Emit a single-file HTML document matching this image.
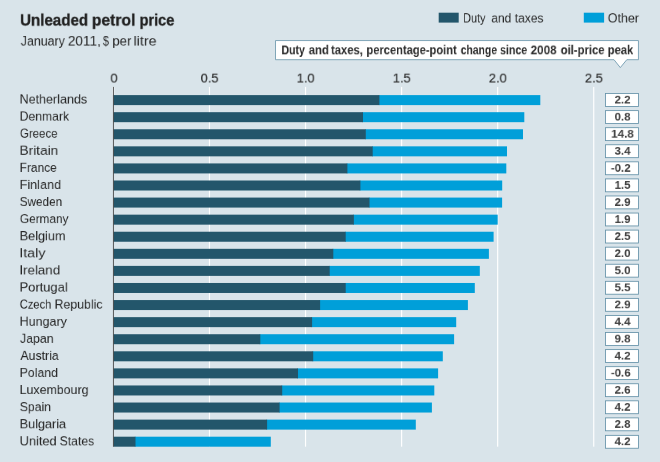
<!DOCTYPE html>
<html lang="en">
<head>
<meta charset="utf-8">
<title>Unleaded petrol price</title>
<style>
html,body{margin:0;padding:0;}
body{width:660px;height:462px;overflow:hidden;background:#d9e4ea;font-family:"Liberation Sans",sans-serif;position:relative;}
#chart{position:absolute;left:0;top:0;width:660px;height:462px;overflow:hidden;background:#d9e4ea;}
#chart svg{position:absolute;left:0;top:0;}
.t{position:absolute;left:0;top:0;white-space:nowrap;line-height:1;will-change:transform;font-family:"Liberation Sans",sans-serif;}
</style>
</head>
<body>
<div id="chart">
<svg width="660" height="462" viewBox="0 0 660 462">
<rect x="208.90" y="86.9" width="1.15" height="359.8" fill="#ffffff"/>
<rect x="304.96" y="86.9" width="1.15" height="359.8" fill="#ffffff"/>
<rect x="401.04" y="86.9" width="1.15" height="359.8" fill="#ffffff"/>
<rect x="497.10" y="86.9" width="1.15" height="359.8" fill="#ffffff"/>
<rect x="593.17" y="86.9" width="1.15" height="359.8" fill="#ffffff"/>
<rect x="378.7" y="95.10" width="161.6" height="10.0" fill="#009fd9"/>
<rect x="113.5" y="95.10" width="265.9" height="10.0" fill="#23566b"/>
<rect x="362.3" y="112.18" width="162.0" height="10.0" fill="#009fd9"/>
<rect x="113.5" y="112.18" width="249.5" height="10.0" fill="#23566b"/>
<rect x="365.1" y="129.26" width="157.9" height="10.0" fill="#009fd9"/>
<rect x="113.5" y="129.26" width="252.3" height="10.0" fill="#23566b"/>
<rect x="372.0" y="146.34" width="135.0" height="10.0" fill="#009fd9"/>
<rect x="113.5" y="146.34" width="259.2" height="10.0" fill="#23566b"/>
<rect x="346.7" y="163.42" width="159.6" height="10.0" fill="#009fd9"/>
<rect x="113.5" y="163.42" width="233.9" height="10.0" fill="#23566b"/>
<rect x="359.7" y="180.50" width="142.5" height="10.0" fill="#009fd9"/>
<rect x="113.5" y="180.50" width="246.9" height="10.0" fill="#23566b"/>
<rect x="368.8" y="197.58" width="133.3" height="10.0" fill="#009fd9"/>
<rect x="113.5" y="197.58" width="256.0" height="10.0" fill="#23566b"/>
<rect x="353.2" y="214.66" width="144.5" height="10.0" fill="#009fd9"/>
<rect x="113.5" y="214.66" width="240.4" height="10.0" fill="#23566b"/>
<rect x="345.0" y="231.74" width="148.6" height="10.0" fill="#009fd9"/>
<rect x="113.5" y="231.74" width="232.2" height="10.0" fill="#23566b"/>
<rect x="332.6" y="248.82" width="156.3" height="10.0" fill="#009fd9"/>
<rect x="113.5" y="248.82" width="219.8" height="10.0" fill="#23566b"/>
<rect x="329.0" y="265.90" width="150.8" height="10.0" fill="#009fd9"/>
<rect x="113.5" y="265.90" width="216.2" height="10.0" fill="#23566b"/>
<rect x="345.0" y="282.98" width="129.8" height="10.0" fill="#009fd9"/>
<rect x="113.5" y="282.98" width="232.2" height="10.0" fill="#23566b"/>
<rect x="319.4" y="300.06" width="148.5" height="10.0" fill="#009fd9"/>
<rect x="113.5" y="300.06" width="206.6" height="10.0" fill="#23566b"/>
<rect x="311.4" y="317.14" width="144.8" height="10.0" fill="#009fd9"/>
<rect x="113.5" y="317.14" width="198.6" height="10.0" fill="#23566b"/>
<rect x="259.6" y="334.22" width="194.5" height="10.0" fill="#009fd9"/>
<rect x="113.5" y="334.22" width="146.8" height="10.0" fill="#23566b"/>
<rect x="312.5" y="351.30" width="130.3" height="10.0" fill="#009fd9"/>
<rect x="113.5" y="351.30" width="199.7" height="10.0" fill="#23566b"/>
<rect x="297.3" y="368.38" width="140.8" height="10.0" fill="#009fd9"/>
<rect x="113.5" y="368.38" width="184.5" height="10.0" fill="#23566b"/>
<rect x="281.5" y="385.46" width="152.8" height="10.0" fill="#009fd9"/>
<rect x="113.5" y="385.46" width="168.7" height="10.0" fill="#23566b"/>
<rect x="278.9" y="402.54" width="153.0" height="10.0" fill="#009fd9"/>
<rect x="113.5" y="402.54" width="166.1" height="10.0" fill="#23566b"/>
<rect x="266.4" y="419.62" width="149.4" height="10.0" fill="#009fd9"/>
<rect x="113.5" y="419.62" width="153.6" height="10.0" fill="#23566b"/>
<rect x="134.8" y="436.70" width="136.0" height="10.0" fill="#009fd9"/>
<rect x="113.5" y="436.70" width="22.0" height="10.0" fill="#23566b"/>
<rect x="112.2" y="87.0" width="2.4" height="8" fill="#ffffff" opacity="0.45"/>
<rect x="112.95" y="86.9" width="0.85" height="359.8" fill="#404040"/>
<rect x="605.5" y="93.55" width="33" height="12.9" fill="#ffffff" stroke="#6592a8" stroke-width="0.85"/>
<rect x="605.5" y="110.62" width="33" height="12.9" fill="#ffffff" stroke="#6592a8" stroke-width="0.85"/>
<rect x="605.5" y="127.69" width="33" height="12.9" fill="#ffffff" stroke="#6592a8" stroke-width="0.85"/>
<rect x="605.5" y="144.76" width="33" height="12.9" fill="#ffffff" stroke="#6592a8" stroke-width="0.85"/>
<rect x="605.5" y="161.83" width="33" height="12.9" fill="#ffffff" stroke="#6592a8" stroke-width="0.85"/>
<rect x="605.5" y="178.90" width="33" height="12.9" fill="#ffffff" stroke="#6592a8" stroke-width="0.85"/>
<rect x="605.5" y="195.97" width="33" height="12.9" fill="#ffffff" stroke="#6592a8" stroke-width="0.85"/>
<rect x="605.5" y="213.04" width="33" height="12.9" fill="#ffffff" stroke="#6592a8" stroke-width="0.85"/>
<rect x="605.5" y="230.11" width="33" height="12.9" fill="#ffffff" stroke="#6592a8" stroke-width="0.85"/>
<rect x="605.5" y="247.18" width="33" height="12.9" fill="#ffffff" stroke="#6592a8" stroke-width="0.85"/>
<rect x="605.5" y="264.25" width="33" height="12.9" fill="#ffffff" stroke="#6592a8" stroke-width="0.85"/>
<rect x="605.5" y="281.32" width="33" height="12.9" fill="#ffffff" stroke="#6592a8" stroke-width="0.85"/>
<rect x="605.5" y="298.39" width="33" height="12.9" fill="#ffffff" stroke="#6592a8" stroke-width="0.85"/>
<rect x="605.5" y="315.46" width="33" height="12.9" fill="#ffffff" stroke="#6592a8" stroke-width="0.85"/>
<rect x="605.5" y="332.53" width="33" height="12.9" fill="#ffffff" stroke="#6592a8" stroke-width="0.85"/>
<rect x="605.5" y="349.60" width="33" height="12.9" fill="#ffffff" stroke="#6592a8" stroke-width="0.85"/>
<rect x="605.5" y="366.67" width="33" height="12.9" fill="#ffffff" stroke="#6592a8" stroke-width="0.85"/>
<rect x="605.5" y="383.74" width="33" height="12.9" fill="#ffffff" stroke="#6592a8" stroke-width="0.85"/>
<rect x="605.5" y="400.81" width="33" height="12.9" fill="#ffffff" stroke="#6592a8" stroke-width="0.85"/>
<rect x="605.5" y="417.88" width="33" height="12.9" fill="#ffffff" stroke="#6592a8" stroke-width="0.85"/>
<rect x="605.5" y="435.35" width="33" height="12.9" fill="#ffffff" stroke="#6592a8" stroke-width="0.85"/>
<rect x="438.7" y="12.7" width="20" height="9.9" fill="#23566b"/>
<rect x="583.8" y="12.7" width="20.3" height="9.9" fill="#009fd9"/>
<path d="M275.5 40.55 H638.45 V59.7 H626.8 L620.3 67.6 L614.0 59.7 H275.5 Z" fill="#ffffff" stroke="#6592a8" stroke-width="0.8" stroke-linejoin="miter"/>
</svg>
<div class="t" id="title_0" style="transform-origin:0 0;transform:translate(19.99px,12.00px) scale(0.7572,0.7987);font-size:20px;font-weight:bold;color:#222222;-webkit-text-stroke:0.35px #222222;">Unleaded</div>
<div class="t" id="title_1" style="transform-origin:0 0;transform:translate(91.78px,12.00px) scale(0.7851,0.7987);font-size:20px;font-weight:bold;color:#222222;-webkit-text-stroke:0.35px #222222;">petrol</div>
<div class="t" id="title_2" style="transform-origin:0 0;transform:translate(139.56px,12.00px) scale(0.7260,0.7987);font-size:20px;font-weight:bold;color:#222222;-webkit-text-stroke:0.35px #222222;">price</div>
<div class="t" id="sub_0" style="transform-origin:0 0;transform:translate(20.79px,34.28px) scale(0.7616,0.8021);font-size:16.25px;color:#262626;">January</div>
<div class="t" id="sub_1" style="transform-origin:0 0;transform:translate(67.84px,34.28px) scale(0.8346,0.8021);font-size:16.25px;color:#262626;">2011,</div>
<div class="t" id="sub_2" style="transform-origin:0 0;transform:translate(102.95px,34.28px) scale(0.6578,0.8021);font-size:16.25px;color:#262626;">$</div>
<div class="t" id="sub_3" style="transform-origin:0 0;transform:translate(112.29px,34.28px) scale(0.8149,0.8021);font-size:16.25px;color:#262626;">per</div>
<div class="t" id="sub_4" style="transform-origin:0 0;transform:translate(133.55px,34.28px) scale(0.8742,0.8021);font-size:16.25px;color:#262626;">litre</div>
<div class="t" id="leg1_0" style="transform-origin:0 0;transform:translate(463.13px,11.65px) scale(0.6694,0.7718);font-size:16.25px;color:#262626;">Duty</div>
<div class="t" id="leg1_1" style="transform-origin:0 0;transform:translate(491.29px,11.65px) scale(0.7382,0.7718);font-size:16.25px;color:#262626;">and</div>
<div class="t" id="leg1_2" style="transform-origin:0 0;transform:translate(514.84px,11.65px) scale(0.7348,0.7718);font-size:16.25px;color:#262626;">taxes</div>
<div class="t" id="leg2" style="transform-origin:0 0;transform:translate(607.79px,11.65px) scale(0.7669,0.7718);font-size:16.25px;color:#262626;">Other</div>
<div class="t" id="call_0" style="transform-origin:0 0;transform:translate(281.50px,42.92px) scale(0.7003,0.8751);font-size:15px;font-weight:bold;color:#2b2b2b;">Duty</div>
<div class="t" id="call_1" style="transform-origin:0 0;transform:translate(308.78px,42.92px) scale(0.7528,0.8751);font-size:15px;font-weight:bold;color:#2b2b2b;">and</div>
<div class="t" id="call_2" style="transform-origin:0 0;transform:translate(331.01px,42.92px) scale(0.7488,0.8751);font-size:15px;font-weight:bold;color:#2b2b2b;">taxes,</div>
<div class="t" id="call_3" style="transform-origin:0 0;transform:translate(366.41px,42.92px) scale(0.7422,0.8751);font-size:15px;font-weight:bold;color:#2b2b2b;">percentage-point</div>
<div class="t" id="call_4" style="transform-origin:0 0;transform:translate(460.70px,42.92px) scale(0.6914,0.8751);font-size:15px;font-weight:bold;color:#2b2b2b;">change</div>
<div class="t" id="call_5" style="transform-origin:0 0;transform:translate(500.05px,42.92px) scale(0.7073,0.8751);font-size:15px;font-weight:bold;color:#2b2b2b;">since</div>
<div class="t" id="call_6" style="transform-origin:0 0;transform:translate(530.63px,42.92px) scale(0.7785,0.8751);font-size:15px;font-weight:bold;color:#2b2b2b;">2008</div>
<div class="t" id="call_7" style="transform-origin:0 0;transform:translate(560.70px,42.92px) scale(0.7504,0.8751);font-size:15px;font-weight:bold;color:#2b2b2b;">oil-price</div>
<div class="t" id="call_8" style="transform-origin:0 0;transform:translate(607.70px,42.92px) scale(0.7477,0.8751);font-size:15px;font-weight:bold;color:#2b2b2b;">peak</div>
<div class="t" id="ax0" style="width:200px;text-align:center;transform-origin:100px 0;transform:translate(14.05px,71.02px) scale(0.8560,0.8791);font-size:15px;color:#262626;-webkit-text-stroke:0.15px #262626;">0</div>
<div class="t" id="ax1" style="width:200px;text-align:center;transform-origin:100px 0;transform:translate(109.62px,71.02px) scale(0.8560,0.8791);font-size:15px;color:#262626;-webkit-text-stroke:0.15px #262626;">0.5</div>
<div class="t" id="ax2" style="width:200px;text-align:center;transform-origin:100px 0;transform:translate(205.69px,71.02px) scale(0.8560,0.8791);font-size:15px;color:#262626;-webkit-text-stroke:0.15px #262626;">1.0</div>
<div class="t" id="ax3" style="width:200px;text-align:center;transform-origin:100px 0;transform:translate(301.76px,71.02px) scale(0.8560,0.8791);font-size:15px;color:#262626;-webkit-text-stroke:0.15px #262626;">1.5</div>
<div class="t" id="ax4" style="width:200px;text-align:center;transform-origin:100px 0;transform:translate(397.83px,71.02px) scale(0.8560,0.8791);font-size:15px;color:#262626;-webkit-text-stroke:0.15px #262626;">2.0</div>
<div class="t" id="ax5" style="width:200px;text-align:center;transform-origin:100px 0;transform:translate(493.90px,71.02px) scale(0.8560,0.8791);font-size:15px;color:#262626;-webkit-text-stroke:0.15px #262626;">2.5</div>
<div class="t" id="lab0" style="transform-origin:0 0;transform:translate(19.63px,92.80px) scale(0.7702,0.7644);font-size:16.25px;color:#262626;">Netherlands</div>
<div class="t" id="val0" style="width:200px;text-align:center;transform-origin:100px 0;transform:translate(522.50px,94.92px) scale(0.8400,0.7767);font-size:13.75px;font-weight:bold;color:#404040;">2.2</div>
<div class="t" id="lab1" style="transform-origin:0 0;transform:translate(19.66px,109.89px) scale(0.7496,0.7644);font-size:16.25px;color:#262626;">Denmark</div>
<div class="t" id="val1" style="width:200px;text-align:center;transform-origin:100px 0;transform:translate(522.50px,111.99px) scale(0.8400,0.7767);font-size:13.75px;font-weight:bold;color:#404040;">0.8</div>
<div class="t" id="lab2" style="transform-origin:0 0;transform:translate(19.93px,126.99px) scale(0.7049,0.7644);font-size:16.25px;color:#262626;">Greece</div>
<div class="t" id="val2" style="width:200px;text-align:center;transform-origin:100px 0;transform:translate(522.50px,129.06px) scale(0.8400,0.7767);font-size:13.75px;font-weight:bold;color:#404040;">14.8</div>
<div class="t" id="lab3" style="transform-origin:0 0;transform:translate(19.56px,144.08px) scale(0.8392,0.7644);font-size:16.25px;color:#262626;">Britain</div>
<div class="t" id="val3" style="width:200px;text-align:center;transform-origin:100px 0;transform:translate(522.50px,146.13px) scale(0.8400,0.7767);font-size:13.75px;font-weight:bold;color:#404040;">3.4</div>
<div class="t" id="lab4" style="transform-origin:0 0;transform:translate(19.66px,161.18px) scale(0.7332,0.7644);font-size:16.25px;color:#262626;">France</div>
<div class="t" id="val4" style="width:200px;text-align:center;transform-origin:100px 0;transform:translate(520.70px,163.20px) scale(0.8400,0.7767);font-size:13.75px;font-weight:bold;color:#404040;">-0.2</div>
<div class="t" id="lab5" style="transform-origin:0 0;transform:translate(19.63px,178.27px) scale(0.7799,0.7644);font-size:16.25px;color:#262626;">Finland</div>
<div class="t" id="val5" style="width:200px;text-align:center;transform-origin:100px 0;transform:translate(522.50px,180.27px) scale(0.8400,0.7767);font-size:13.75px;font-weight:bold;color:#404040;">1.5</div>
<div class="t" id="lab6" style="transform-origin:0 0;transform:translate(19.75px,195.37px) scale(0.7218,0.7644);font-size:16.25px;color:#262626;">Sweden</div>
<div class="t" id="val6" style="width:200px;text-align:center;transform-origin:100px 0;transform:translate(522.50px,197.34px) scale(0.8400,0.7767);font-size:13.75px;font-weight:bold;color:#404040;">2.9</div>
<div class="t" id="lab7" style="transform-origin:0 0;transform:translate(19.91px,212.46px) scale(0.7254,0.7644);font-size:16.25px;color:#262626;">Germany</div>
<div class="t" id="val7" style="width:200px;text-align:center;transform-origin:100px 0;transform:translate(522.50px,214.41px) scale(0.8400,0.7767);font-size:13.75px;font-weight:bold;color:#404040;">1.9</div>
<div class="t" id="lab8" style="transform-origin:0 0;transform:translate(19.64px,229.56px) scale(0.7822,0.7644);font-size:16.25px;color:#262626;">Belgium</div>
<div class="t" id="val8" style="width:200px;text-align:center;transform-origin:100px 0;transform:translate(522.50px,231.48px) scale(0.8400,0.7767);font-size:13.75px;font-weight:bold;color:#404040;">2.5</div>
<div class="t" id="lab9" style="transform-origin:0 0;transform:translate(19.36px,246.65px) scale(0.8734,0.7644);font-size:16.25px;color:#262626;">Italy</div>
<div class="t" id="val9" style="width:200px;text-align:center;transform-origin:100px 0;transform:translate(522.50px,248.55px) scale(0.8400,0.7767);font-size:13.75px;font-weight:bold;color:#404040;">2.0</div>
<div class="t" id="lab10" style="transform-origin:0 0;transform:translate(19.41px,263.75px) scale(0.8192,0.7644);font-size:16.25px;color:#262626;">Ireland</div>
<div class="t" id="val10" style="width:200px;text-align:center;transform-origin:100px 0;transform:translate(522.50px,265.62px) scale(0.8400,0.7767);font-size:13.75px;font-weight:bold;color:#404040;">5.0</div>
<div class="t" id="lab11" style="transform-origin:0 0;transform:translate(19.60px,280.84px) scale(0.7945,0.7644);font-size:16.25px;color:#262626;">Portugal</div>
<div class="t" id="val11" style="width:200px;text-align:center;transform-origin:100px 0;transform:translate(522.50px,282.69px) scale(0.8400,0.7767);font-size:13.75px;font-weight:bold;color:#404040;">5.5</div>
<div class="t" id="lab12_0" style="transform-origin:0 0;transform:translate(19.76px,297.94px) scale(0.6844,0.7644);font-size:16.25px;color:#262626;">Czech</div>
<div class="t" id="lab12_1" style="transform-origin:0 0;transform:translate(54.56px,297.94px) scale(0.7586,0.7644);font-size:16.25px;color:#262626;">Republic</div>
<div class="t" id="val12" style="width:200px;text-align:center;transform-origin:100px 0;transform:translate(522.50px,299.76px) scale(0.8400,0.7767);font-size:13.75px;font-weight:bold;color:#404040;">2.9</div>
<div class="t" id="lab13" style="transform-origin:0 0;transform:translate(19.63px,315.03px) scale(0.7705,0.7644);font-size:16.25px;color:#262626;">Hungary</div>
<div class="t" id="val13" style="width:200px;text-align:center;transform-origin:100px 0;transform:translate(522.50px,316.83px) scale(0.8400,0.7767);font-size:13.75px;font-weight:bold;color:#404040;">4.4</div>
<div class="t" id="lab14" style="transform-origin:0 0;transform:translate(19.97px,332.13px) scale(0.7578,0.7644);font-size:16.25px;color:#262626;">Japan</div>
<div class="t" id="val14" style="width:200px;text-align:center;transform-origin:100px 0;transform:translate(522.50px,333.90px) scale(0.8400,0.7767);font-size:13.75px;font-weight:bold;color:#404040;">9.8</div>
<div class="t" id="lab15" style="transform-origin:0 0;transform:translate(20.48px,349.22px) scale(0.7546,0.7644);font-size:16.25px;color:#262626;">Austria</div>
<div class="t" id="val15" style="width:200px;text-align:center;transform-origin:100px 0;transform:translate(522.50px,350.97px) scale(0.8400,0.7767);font-size:13.75px;font-weight:bold;color:#404040;">4.2</div>
<div class="t" id="lab16" style="transform-origin:0 0;transform:translate(19.63px,366.32px) scale(0.7591,0.7644);font-size:16.25px;color:#262626;">Poland</div>
<div class="t" id="val16" style="width:200px;text-align:center;transform-origin:100px 0;transform:translate(520.70px,368.04px) scale(0.8400,0.7767);font-size:13.75px;font-weight:bold;color:#404040;">-0.6</div>
<div class="t" id="lab17" style="transform-origin:0 0;transform:translate(19.63px,383.41px) scale(0.7625,0.7644);font-size:16.25px;color:#262626;">Luxembourg</div>
<div class="t" id="val17" style="width:200px;text-align:center;transform-origin:100px 0;transform:translate(522.50px,385.11px) scale(0.8400,0.7767);font-size:13.75px;font-weight:bold;color:#404040;">2.6</div>
<div class="t" id="lab18" style="transform-origin:0 0;transform:translate(19.78px,400.51px) scale(0.7504,0.7644);font-size:16.25px;color:#262626;">Spain</div>
<div class="t" id="val18" style="width:200px;text-align:center;transform-origin:100px 0;transform:translate(522.50px,402.18px) scale(0.8400,0.7767);font-size:13.75px;font-weight:bold;color:#404040;">4.2</div>
<div class="t" id="lab19" style="transform-origin:0 0;transform:translate(19.63px,417.60px) scale(0.7787,0.7644);font-size:16.25px;color:#262626;">Bulgaria</div>
<div class="t" id="val19" style="width:200px;text-align:center;transform-origin:100px 0;transform:translate(522.50px,419.25px) scale(0.8400,0.7767);font-size:13.75px;font-weight:bold;color:#404040;">2.8</div>
<div class="t" id="lab20_0" style="transform-origin:0 0;transform:translate(19.66px,434.70px) scale(0.7847,0.7644);font-size:16.25px;color:#262626;">United</div>
<div class="t" id="lab20_1" style="transform-origin:0 0;transform:translate(59.74px,434.70px) scale(0.7458,0.7644);font-size:16.25px;color:#262626;">States</div>
<div class="t" id="val20" style="width:200px;text-align:center;transform-origin:100px 0;transform:translate(522.50px,436.62px) scale(0.8400,0.7767);font-size:13.75px;font-weight:bold;color:#404040;">4.2</div>
</div>
</body>
</html>
